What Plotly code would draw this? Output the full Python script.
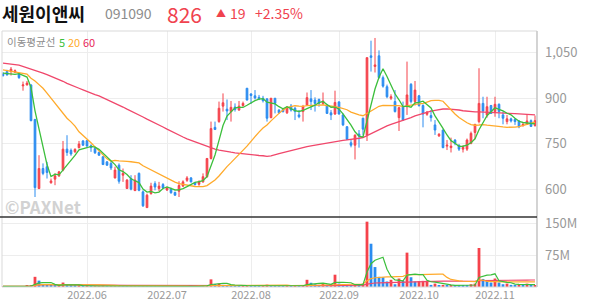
import pandas as pd
import plotly.graph_objects as go
from plotly.subplots import make_subplots

# ---------------- data ----------------
holidays = ["2022-05-05", "2022-06-01", "2022-06-06", "2022-08-15",
            "2022-09-09", "2022-09-12", "2022-10-03", "2022-10-10"]
dates = [d for d in pd.bdate_range("2022-05-02", "2022-11-15")
         if d.strftime("%Y-%m-%d") not in holidays]

open_ = [980, 988, 988, 986, 980, 941, 944, 944, 830, 602,
         668, 674, 621, 633, 644, 663, 732, 728, 723, 737,
         759, 760, 743, 734, 721, 707, 690, 685, 637, 679,
         646, 602, 635, 595, 652, 591, 539, 585, 618, 602,
         615, 597, 599, 589, 593, 610, 629, 637, 621, 616,
         624, 641, 701, 804, 823, 874, 864, 856, 871, 861,
         876, 933, 914, 908, 903, 900, 898, 836, 900, 861,
         863, 852, 874, 867, 845, 856, 878, 898, 894, 896,
         883, 878, 852, 848, 888, 845, 806, 753, 745, 782,
         834, 779, 1040, 1005, 1040, 968, 938, 900, 889, 836,
         872, 872, 946, 889, 908, 876, 847, 843, 812, 776,
         795, 742, 737, 762, 745, 732, 732, 751, 787, 823,
         883, 845, 876, 856, 880, 845, 823, 832, 830, 825,
         810, 814, 826, 810]
high = [986, 994, 1003, 995, 983, 955, 957, 946, 832, 712,
        685, 690, 635, 652, 660, 759, 778, 734, 735, 759,
        762, 762, 748, 740, 724, 708, 692, 692, 674, 685,
        668, 633, 646, 646, 655, 596, 585, 621, 626, 624,
        620, 608, 605, 592, 626, 629, 643, 640, 624, 629,
        652, 703, 823, 823, 889, 916, 896, 891, 883, 891,
        889, 934, 917, 927, 911, 908, 900, 901, 901, 864,
        866, 874, 881, 872, 861, 878, 919, 927, 903, 899,
        919, 880, 861, 925, 890, 850, 808, 762, 781, 795,
        836, 1035, 1090, 1099, 1058, 975, 945, 913, 927, 872,
        889, 1021, 950, 957, 911, 880, 858, 861, 828, 785,
        797, 762, 770, 765, 748, 745, 767, 790, 815, 999,
        905, 905, 878, 905, 883, 856, 845, 836, 834, 828,
        818, 845, 830, 843]
low = [971, 975, 975, 983, 964, 925, 942, 824, 574, 600,
       646, 635, 618, 613, 640, 659, 710, 710, 720, 734,
       743, 740, 723, 716, 710, 680, 677, 663, 635, 618,
       624, 602, 596, 594, 593, 541, 538, 582, 596, 593,
       600, 594, 585, 578, 574, 607, 624, 622, 612, 611,
       621, 638, 698, 795, 819, 856, 828, 823, 856, 859,
       872, 893, 881, 896, 894, 886, 823, 834, 850, 849,
       853, 848, 856, 828, 834, 823, 876, 861, 856, 872,
       878, 848, 828, 845, 846, 808, 762, 738, 698, 737,
       778, 759, 988, 985, 965, 935, 900, 894, 853, 792,
       825, 845, 883, 876, 872, 804, 842, 823, 779, 772,
       735, 729, 721, 745, 726, 721, 726, 748, 765, 817,
       834, 836, 848, 839, 834, 814, 814, 820, 812, 801,
       806, 812, 805, 806]
close = [975, 977, 996, 991, 968, 944, 950, 826, 605, 668,
         652, 655, 627, 644, 657, 732, 721, 716, 731, 749,
         745, 742, 737, 720, 712, 681, 679, 670, 663, 626,
         652, 630, 600, 630, 596, 545, 580, 610, 607, 610,
         604, 604, 588, 580, 612, 624, 637, 624, 615, 624,
         641, 701, 800, 797, 867, 885, 858, 870, 863, 874,
         883, 894, 909, 901, 898, 892, 834, 900, 883, 852,
         856, 870, 861, 856, 839, 872, 902, 889, 883, 883,
         891, 850, 845, 886, 848, 812, 764, 745, 778, 775,
         798, 1034, 1035, 1010, 968, 940, 905, 905, 856, 869,
         828, 911, 889, 927, 876, 848, 854, 836, 795, 781,
         737, 745, 742, 751, 732, 738, 762, 784, 814, 883,
         858, 872, 850, 880, 856, 834, 832, 825, 823, 806,
         814, 825, 807, 826]
volume_m = [1.5, 1.2, 1.8, 1.2, 1.5, 2.0, 2.5, 4.5, 24, 15,
            6, 4, 3.5, 3, 3.5, 10.5, 5.5, 3, 2.5, 3,
            2.5, 2.5, 2, 2, 2, 2.5, 2, 2, 2, 2.5,
            2, 1.8, 2, 2, 1.8, 2.5, 2.2, 2, 1.8, 1.6,
            1.5, 1.4, 1.5, 1.4, 1.6, 1.5, 1.6, 1.5, 1.3, 1.5,
            4, 4.5, 18, 7, 8, 5, 4, 3.5, 3, 2.5,
            3, 3.5, 3, 2.5, 2, 2, 5.5, 3.5, 3, 2.5,
            2, 3, 2.5, 3, 2.5, 3.5, 17, 10, 6.5, 5,
            8, 5, 6.5, 29, 8, 5, 4.5, 4, 6, 4.5,
            8, 154, 102, 47, 24, 23, 13, 17, 6.5, 20,
            15, 81, 23, 13, 14, 14.5, 15, 5, 8, 4,
            5, 3.5, 4, 3.5, 3.2, 3, 2.9, 6.5, 8, 92,
            19, 14, 10.5, 20, 10.5, 6.5, 8, 5, 4, 6.5,
            5, 8, 4, 4.5]

# moving-average values before enough history is shown
ma5_head = [983, 982, 981, 979]
ma20_head = [994, 992, 990, 988, 986, 984, 980, 966, 957, 945,
             933, 917, 900, 884, 867, 850, 834, 822, 808]
ma60_head = [1016, 1015, 1013, 1011, 1009, 1005, 1001, 996, 991, 987,
             983, 978, 973, 967, 962, 956, 949, 943, 938, 933,
             928, 922, 917, 912, 908, 902, 896, 891, 885, 878,
             871, 864, 858, 851, 845, 838, 831, 825, 818, 812,
             805, 798, 791, 785, 778, 772, 766, 761, 756, 751,
             746, 741, 736, 732, 729, 726, 724, 722, 720]

price_ticks = [600, 750, 900, 1050]
vol_ticks = [75e6, 150e6]
vol_tick_text = ["75M", "150M"]

# ---------------- derived ----------------
RED = "#f5424b"
BLUE = "#2b8cf0"
GREEN = "#3cbf3c"
ORANGE = "#ffaa2b"
PINK = "#f0476b"
FONT = "Noto Sans CJK KR, Noto Sans, sans-serif"

x = list(range(len(dates)))
cs = pd.Series(close, dtype=float)


def ma(series, n, head):
    m = series.rolling(n).mean().tolist()
    m[:len(head)] = head
    return m


ma5 = ma(cs, 5, ma5_head)
ma20 = ma(cs, 20, ma20_head)
ma60 = ma(cs, 60, ma60_head)

vol = pd.Series([v * 1e6 for v in volume_m])
vcol = [RED if i == 0 or vol[i] >= vol[i - 1] else BLUE for i in range(len(vol))]
vma5 = vol.rolling(5, min_periods=1).mean()
vma20 = vol.rolling(20, min_periods=1).mean()
vma60 = vol.rolling(60, min_periods=1).mean()

months = [d.strftime("%Y.%m") for d in dates]
tick_idx = [i for i in range(1, len(months)) if months[i] != months[i - 1]]
tick_txt = [months[i] for i in tick_idx]

# ---------------- figure ----------------
fig = make_subplots(rows=2, cols=1, shared_xaxes=True, vertical_spacing=0,
                    row_heights=[186, 70])

fig.add_trace(go.Scatter(x=x, y=ma60, mode="lines", line=dict(color=PINK, width=1.3),
                         hoverinfo="skip"), row=1, col=1)
fig.add_trace(go.Scatter(x=x, y=ma20, mode="lines", line=dict(color=ORANGE, width=1.3),
                         hoverinfo="skip"), row=1, col=1)
fig.add_trace(go.Candlestick(x=x, open=open_, high=high, low=low, close=close,
                             increasing=dict(line=dict(color=RED, width=1), fillcolor=RED),
                             decreasing=dict(line=dict(color=BLUE, width=1), fillcolor=BLUE),
                             whiskerwidth=0), row=1, col=1)
fig.add_trace(go.Scatter(x=x, y=ma5, mode="lines", line=dict(color=GREEN, width=1.3),
                         hoverinfo="skip"), row=1, col=1)

fig.add_trace(go.Bar(x=x, y=vol, marker=dict(color=vcol, line=dict(width=0)), width=0.7),
              row=2, col=1)
fig.add_trace(go.Scatter(x=x, y=vma60, mode="lines", line=dict(color=PINK, width=1.2)),
              row=2, col=1)
fig.add_trace(go.Scatter(x=x, y=vma20, mode="lines", line=dict(color=ORANGE, width=1.2)),
              row=2, col=1)
fig.add_trace(go.Scatter(x=x, y=vma5, mode="lines", line=dict(color=GREEN, width=1.2)),
              row=2, col=1)

xr = [-0.25, len(x) - 0.5]
fig.update_xaxes(range=xr, tickvals=tick_idx, ticktext=tick_txt, showgrid=True,
                 gridcolor="#ededed", gridwidth=1, zeroline=False, showline=False,
                 ticks="", fixedrange=True)
fig.update_xaxes(showticklabels=False, rangeslider=dict(visible=False), row=1, col=1)
fig.update_xaxes(showticklabels=True, tickfont=dict(family=FONT, size=11, color="#999"),
                 row=2, col=1)

fig.update_yaxes(side="right", range=[508, 1122], tickvals=price_ticks, tickformat=",d",
                 showgrid=True, gridcolor="#ededed", zeroline=False, ticks="",
                 ticklabelstandoff=7, tickfont=dict(family=FONT, size=13, color="#999"),
                 row=1, col=1)
fig.update_yaxes(side="right", range=[0, 165e6], tickvals=vol_ticks, ticktext=vol_tick_text,
                 showgrid=True, gridcolor="#ededed", zeroline=False, ticks="",
                 ticklabelstandoff=7, tickfont=dict(family=FONT, size=13, color="#999"),
                 row=2, col=1)

vol_top = 70 / 256
shapes = [
    dict(type="rect", xref="paper", yref="paper", x0=0, x1=1, y0=0, y1=1,
         line=dict(color="#d9d9d9", width=1)),
    dict(type="line", xref="paper", yref="paper", x0=1, x1=1, y0=0, y1=1,
         line=dict(color="#c4c4c4", width=1.2)),
    dict(type="line", xref="paper", yref="paper", x0=-2 / 535, x1=1, y0=vol_top, y1=vol_top,
         line=dict(color="#333", width=1.6)),
]


def px(xp):
    return (xp - 2) / 535


def py(yp):
    return (287 - yp) / 256


ann = [
    dict(text="<b>세원이앤씨</b>", x=px(1), y=py(12.5), font=dict(size=18, color="#111")),
    dict(text="091090", x=px(104), y=py(12.5), font=dict(size=14, color="#8c8c8c")),
    dict(text="826", x=px(166), y=py(13.5), font=dict(size=21, color="#f0424e")),
    dict(text="▲", x=px(215), y=py(12), font=dict(size=10, color="#f0424e")),
    dict(text="19", x=px(229), y=py(12.5), font=dict(size=14, color="#f0424e")),
    dict(text="+2.35%", x=px(254), y=py(12.5), font=dict(size=14, color="#f0424e")),
    dict(text="이동평균선", x=px(6), y=py(41.5), font=dict(size=10.5, color="#8c8c8c")),
    dict(text="5", x=px(58), y=py(41.5), font=dict(size=11, color=GREEN)),
    dict(text="20", x=px(67), y=py(41.5), font=dict(size=11, color=ORANGE)),
    dict(text="60", x=px(82), y=py(41.5), font=dict(size=11, color="#e8285a")),
    dict(text="<b>©PAXNet</b>", x=px(4), y=py(206), font=dict(size=17, color="#d2d2d2")),
]
for a in ann:
    a.update(xref="paper", yref="paper", xanchor="left", yanchor="middle",
             showarrow=False, borderpad=0)
    a["font"]["family"] = FONT

fig.update_layout(
    width=594, height=304,
    margin=dict(l=2, r=57, t=31, b=17),
    paper_bgcolor="white", plot_bgcolor="white",
    showlegend=False, boxgap=0.4, bargap=0.3,
    shapes=shapes, annotations=ann,
    font=dict(family=FONT),
    hovermode=False,
)

fig.write_html("out.html")
